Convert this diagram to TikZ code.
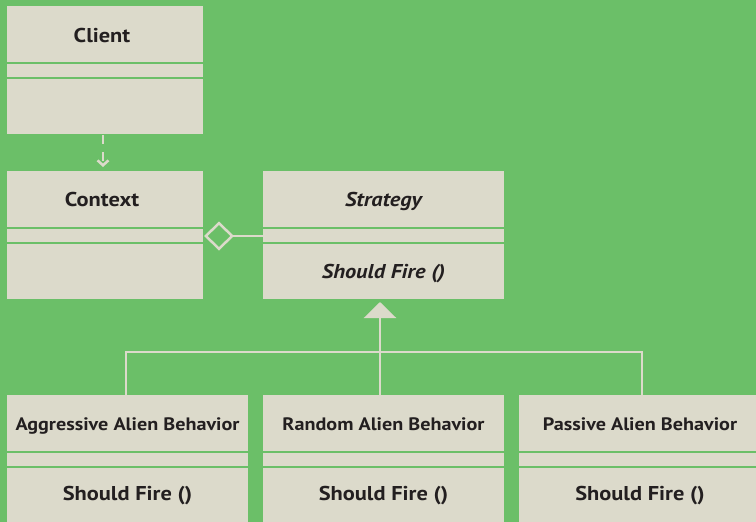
\documentclass[tikz,border=0pt]{standalone}
\usepackage{fontspec}
\newfontfamily\dinfont[FakeStretch=1.12]{PT Sans}
\usetikzlibrary{arrows.meta,calc}
\definecolor{bg}{RGB}{107,191,104}
\definecolor{boxc}{RGB}{220,218,203}
\definecolor{txt}{RGB}{35,31,32}
\begin{document}
\begin{tikzpicture}[x=1pt,y=-1pt,
  cls/.style={fill=boxc, draw=none, inner sep=0pt, outer sep=0pt, anchor=north west, minimum height=128pt},
  divider/.style={draw=bg, line width=2pt},
  lbl/.style={text=txt, inner sep=0pt, anchor=base, font=\dinfont\bfseries\fontsize{20}{20}\selectfont},
  lblsmall/.style={text=txt, inner sep=0pt, anchor=base, font=\dinfont\bfseries\fontsize{18}{18}\selectfont},
  lblit/.style={text=txt, inner sep=0pt, anchor=base, font=\dinfont\bfseries\itshape\fontsize{20}{20}\selectfont},
  conn/.style={draw=boxc, line width=2.5pt}
]
\useasboundingbox[fill=bg] (0,0) rectangle (756,522);
% class boxes
\node[cls, minimum width=196pt] (client) at (7,6) {};
\node[cls, minimum width=196pt] (context) at (7,171) {};
\node[cls, minimum width=241pt] (strategy) at (263,171) {};
\node[cls, minimum width=241pt, minimum height=127pt] (aggr) at (7,395) {};
\node[cls, minimum width=241pt, minimum height=127pt] (random) at (263,395) {};
\node[cls, minimum width=237pt, minimum height=127pt] (passive) at (519,395) {};
% dividers
\foreach \n in {client,context,strategy,aggr,random,passive}{
  \draw[divider] ($(\n.north west)+(0,57)$) -- ($(\n.north east)+(0,57)$);
  \draw[divider] ($(\n.north west)+(0,72)$) -- ($(\n.north east)+(0,72)$);
}
% texts
\node[lbl] (clientT) at (102,42) {Client};
\node[lbl] (contextT) at (102,206.5) {Context};
\node[lblit] (strategyT) at (383.5,206.5) {Strategy};
\node[lblit] (strategyM) at (383.5,278.5) {Should Fire ()};
\node[lblsmall] (aggrT) at (127.5,430.5) {Aggressive Alien Behavior};
\node[lblsmall] (randomT) at (383.5,430.5) {Random Alien Behavior};
\node[lblsmall] (passiveT) at (640,430.5) {Passive Alien Behavior};
\node[lbl] (aggrM) at (127.5,500.5) {Should Fire ()};
\node[lbl] (randomM) at (383.5,500.5) {Should Fire ()};
\node[lbl] (passiveM) at (640,500.5) {Should Fire ()};
% dependency
\draw[conn, dash pattern=on 9pt off 8pt, -{Straight Barb[length=5pt,width=11pt]}, shorten >=4pt]
  ($(client.south)+(-2,1)$) -- ($(context.north)+(-2,0)$);
% aggregation
\draw[conn, {Diamond[open,length=30pt,width=29pt]}-] ($(context.east)+(1,1)$) -- ($(strategy.west)+(0,1)$);
% inheritance
\coordinate (ja) at (126,352);
\coordinate (jp) at (642,352);
\draw[conn] (aggr.north -| ja) -- (ja) -- (jp) -- (passive.north -| jp);
\draw[conn, -{Triangle[length=16pt,width=32pt]}, shorten >=3pt] ($(random.north)+(-3.5,0)$) -- ($(strategy.south)+(-3.5,0)$);
\end{tikzpicture}
\end{document}
